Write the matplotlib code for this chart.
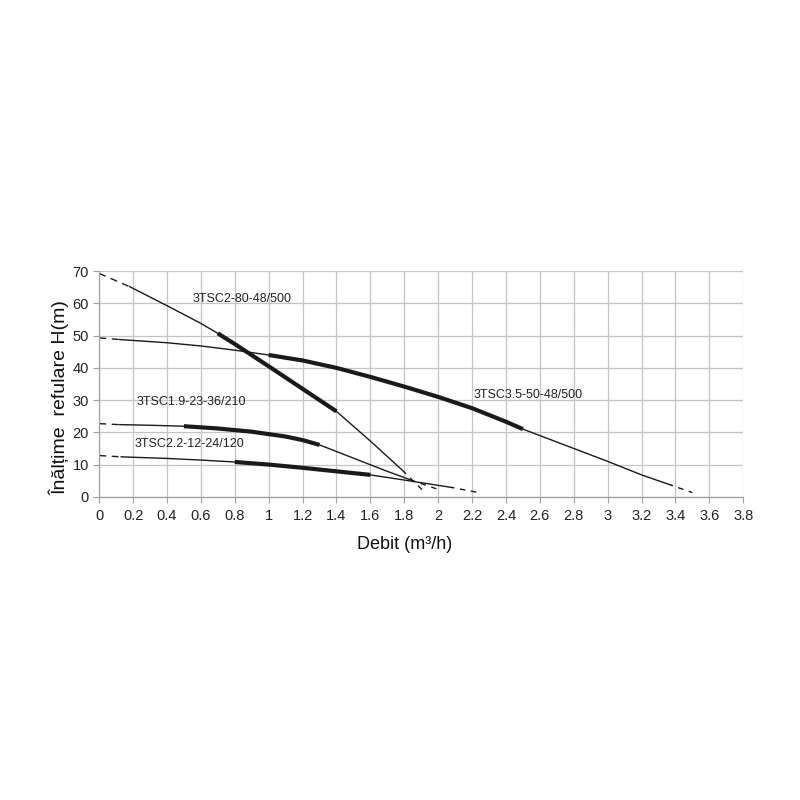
import matplotlib
matplotlib.use("Agg")
import matplotlib.pyplot as plt
import numpy as np

plt.rcParams["font.family"] = ["Liberation Sans Narrow", "Liberation Sans", "DejaVu Sans"]

# pump curves: flow (m3/h) and head (m)
names = ["3TSC2-80-48/500", "3TSC3.5-50-48/500", "3TSC1.9-23-36/210", "3TSC2.2-12-24/120"]

q_280 = [0, 0.18, 0.4, 0.6, 0.7, 0.8, 1.0, 1.2, 1.4, 1.6, 1.8, 1.85, 1.91]
h_280 = [69.3, 65.2, 59.3, 53.8, 50.7, 47.4, 40.5, 33.5, 26.5, 17.3, 7.7, 5.0, 2.0]

q_350 = [0, 0.12, 0.4, 0.6, 0.8, 1.0, 1.2, 1.4, 1.6, 1.8, 2.0, 2.2, 2.4, 2.5, 2.8, 3.0, 3.2, 3.37, 3.5]
h_350 = [49.3, 48.8, 47.8, 46.8, 45.5, 44.0, 42.3, 40.0, 37.2, 34.2, 31.0, 27.5, 23.3, 21.0, 15.0, 11.0, 6.8, 3.7, 1.3]

q_190 = [0, 0.12, 0.3, 0.5, 0.7, 0.9, 1.1, 1.2, 1.3, 1.5, 1.7, 1.85, 2.0]
h_190 = [22.7, 22.4, 22.2, 21.9, 21.2, 20.2, 18.7, 17.6, 16.1, 12.0, 7.9, 5.0, 2.3]

q_220 = [0, 0.13, 0.4, 0.6, 0.8, 1.0, 1.2, 1.4, 1.6, 1.8, 2.08, 2.23]
h_220 = [12.8, 12.4, 11.9, 11.4, 10.8, 10.0, 9.0, 7.9, 6.8, 5.2, 2.9, 1.4]

# (end of dashed start, start of best range, end of best range, end of solid line)
ranges_280 = (0.18, 0.7, 1.4, 1.8)
ranges_350 = (0.12, 1.0, 2.5, 3.37)
ranges_190 = (0.12, 0.5, 1.3, 1.85)
ranges_220 = (0.13, 0.8, 1.6, 2.08)

pumps = [
    (q_280, h_280, ranges_280),
    (q_350, h_350, ranges_350),
    (q_190, h_190, ranges_190),
    (q_220, h_220, ranges_220),
]

label_pos = [(0.55, 61.5), (2.21, 31.5), (0.22, 29.5), (0.21, 16.5)]

xticks = np.round(np.arange(0, 3.81, 0.2), 1)
yticks = np.arange(0, 71, 10)


def piece(q, h, a, b):
    q = np.asarray(q, float)
    h = np.asarray(h, float)
    inner = (q > a) & (q < b)
    qs = np.concatenate([[a], q[inner], [b]])
    hs = np.interp(qs, q, h)
    return qs, hs


fig = plt.figure(figsize=(8, 8), dpi=100)
ax = fig.add_axes([0.124, 0.379, 0.805, 0.282])

for q, h, (d0, t0, t1, d1) in pumps:
    lc = "#1a1a1a"
    x, y = piece(q, h, q[0], d0)
    ax.plot(x, y, color=lc, lw=1.0, linestyle=(0, (5, 4)))
    x, y = piece(q, h, d0, t0)
    ax.plot(x, y, color=lc, lw=1.0)
    x, y = piece(q, h, t0, t1)
    ax.plot(x, y, color=lc, lw=3.0, solid_capstyle="butt")
    x, y = piece(q, h, t1, d1)
    ax.plot(x, y, color=lc, lw=1.0)
    x, y = piece(q, h, d1, q[-1])
    ax.plot(x, y, color=lc, lw=1.0, linestyle=(2, (4, 4)))

for name, (lx, ly) in zip(names, label_pos):
    ax.text(lx, ly, name, fontsize=9, color="#222222", va="center", ha="left")

ax.set_xlim(0, 3.8)
ax.set_ylim(0, 70)
ax.set_xticks(xticks)
ax.set_xticklabels(["%g" % t for t in xticks])
ax.set_yticks(yticks)
ax.grid(True, color="#c4c4c4", lw=0.9)
ax.set_axisbelow(True)
for s in ["top", "right"]:
    ax.spines[s].set_visible(False)
for s in ["left", "bottom"]:
    ax.spines[s].set_color("#a0a0a0")
    ax.spines[s].set_linewidth(0.9)
ax.tick_params(axis="both", colors="#a0a0a0", labelcolor="#222222", labelsize=10.5, length=4)
ax.tick_params(axis="x", pad=5)

ax.set_xlabel("Debit (m³/h)", fontsize=13, color="#111111", labelpad=9, x=0.475)
ax.set_ylabel("Înălțime  refulare H(m)", fontsize=14, color="#111111", labelpad=2, y=0.44)

fig.savefig("out.png", dpi=100, facecolor="white")
